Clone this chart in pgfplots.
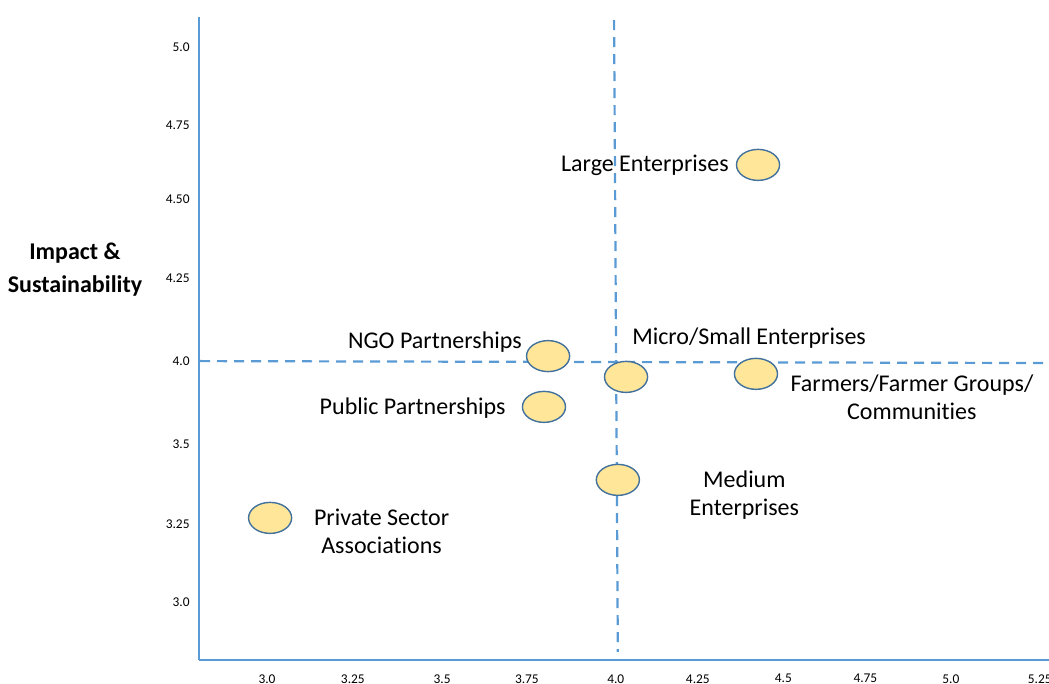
\documentclass[border=0pt]{standalone}
\usepackage{fontspec}
\setmainfont{Carlito}[Ligatures={NoCommon}]
\usepackage{pgfplots}
\pgfplotsset{compat=1.18}
\definecolor{axblue}{HTML}{5B9BD5}
\definecolor{ovalfill}{HTML}{FFE699}
\definecolor{ovaledge}{HTML}{41719C}

\begin{document}
\begin{tikzpicture}[lbl/.style={font=\fontsize{12}{14}\selectfont, inner sep=0pt}]
\begin{axis}[
  scale only axis,
  width=425pt, height=321.5pt,
  xmin=2.801, xmax=5.287,
  ymin=2.791, ymax=5.108,
  axis x line=bottom, axis y line=left,
  axis line style={-, axblue, line width=1pt},
  major tick length=0pt,
  xtick={3,3.251,3.512,3.76,4.02,4.26,4.51,4.75,5,5.26},
  xticklabels={3.0,3.25,3.5,3.75,4.0,4.25,4.5,4.75,5.0,5.25},
  ytick={3,3.281,3.569,3.868,4.168,4.452,4.719,5},
  yticklabels={3.0,3.25,3.5,4.0,4.25,4.50,4.75,5.0},
  tick label style={font=\fontsize{6.7}{7}\selectfont, inner sep=0pt},
  xticklabel style={yshift=-7pt},
  yticklabel style={xshift=-4.5pt},
  clip=false,
]
% quadrant lines
\addplot[axblue, line width=1.1pt, dash pattern=on 5pt off 3.5pt] coordinates {(4.015,5.097) (4.026,2.820)};
\addplot[axblue, line width=1.1pt, dash pattern=on 5pt off 3.5pt] coordinates {(2.804,3.868) (5.287,3.861)};

% stakeholder groups
\addplot[only marks, mark=*, mark size=7.75pt,
  mark options={xscale=1.39, fill=ovalfill, draw=ovaledge, line width=0.7pt}]
  coordinates {
  (4.436,4.575) % Large Enterprises
  (3.822,3.886) % NGO Partnerships
  (4.050,3.811) % Micro/Small Enterprises
  (4.430,3.822) % Farmers/Farmer Groups/Communities
  (3.810,3.703) % Public Partnerships
  (4.026,3.440) % Medium Enterprises
  (3.009,3.303) % Private Sector Associations
};

\node[lbl, anchor=base] at (axis cs:4.105,4.550) {Large Enterprises};
\node[lbl, anchor=base east] at (axis cs:3.746,3.915) {NGO Partnerships};
\node[lbl, anchor=base west] at (axis cs:4.067,3.926) {Micro/Small Enterprises};
\node[lbl, anchor=base east] at (axis cs:3.699,3.674) {Public Partnerships};
\node[lbl, anchor=base] at (axis cs:4.886,3.760) {Farmers/Farmer Groups/};
\node[lbl, anchor=base] at (axis cs:4.886,3.657) {Communities};
\node[lbl, anchor=base] at (axis cs:4.396,3.414) {Medium};
\node[lbl, anchor=base] at (axis cs:4.396,3.312) {Enterprises};
\node[lbl, anchor=base] at (axis cs:3.335,3.277) {Private Sector};
\node[lbl, anchor=base] at (axis cs:3.335,3.175) {Associations};

\node[align=center, font=\bfseries\fontsize{12}{16.5}\selectfont]
  at (axis description cs:-0.1459,0.6065) {Impact \&\\Sustainability};

\coordinate (bbsw) at (axis description cs:-0.2341,-0.0373);
\coordinate (bbne) at (axis description cs:1,1.0264);
\end{axis}
\pgfresetboundingbox
\path[use as bounding box] (bbsw) rectangle (bbne);
\end{tikzpicture}
\end{document}
